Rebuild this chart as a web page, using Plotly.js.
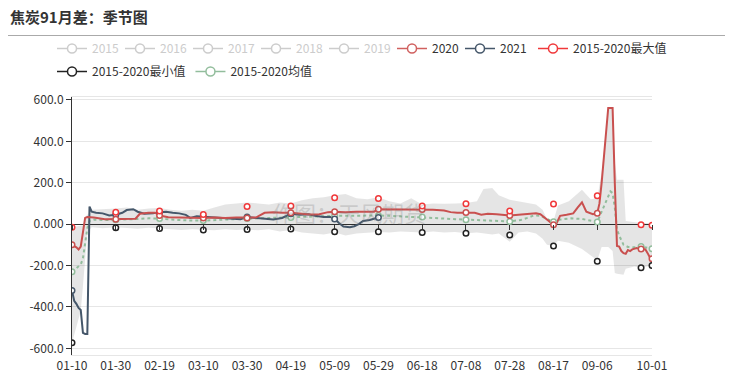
<!DOCTYPE html>
<html><head><meta charset="utf-8">
<script src="https://cdn.plot.ly/plotly-3.0.1.min.js"></script>
<style>html,body{margin:0;padding:0;background:#fff}#chart{width:732px;height:383px}</style>
</head><body><div id="chart"></div>
<script>
// ---- data (month-day, year 2020 axis) ----
const tickDays = ['01-10','01-30','02-19','03-10','03-30','04-19','05-09','05-29','06-18','07-08','07-28','08-17','09-06','10-01'];
const markDays = ['01-10','01-30','02-19','03-10','03-30','04-19','05-09','05-29','06-18','07-08','07-28','08-17','09-06','09-26','10-01'];
const maxMarks = [-15,58,63,46,85,88,127,124,88,98,63,97,137,-3,-5];
const minMarks = [-573,-18,-21,-28,-26,-23,-37,-37,-40,-44,-52,-105,-179,-211,-200];

const days2020 = ['01-10','01-11','01-12','01-13','01-14','01-15','01-16','01-17','01-20','01-25','01-30','02-04','02-08','02-10','02-14','02-17','02-19','02-23','02-28','03-05','03-10','03-15','03-20','03-25','03-30','04-03','04-07','04-11','04-15','04-19','04-24','04-28','05-02','05-06','05-09','05-14','05-19','05-24','05-27','05-29','06-03','06-08','06-13','06-18','06-23','06-28','07-01','07-04','07-08','07-12','07-15','07-18','07-22','07-28','08-01','08-05','08-09','08-11','08-13','08-15','08-17','08-18','08-20','08-23','08-26','08-28','08-30','09-01','09-04','09-06','09-07','09-08','09-09','09-10','09-11','09-12','09-13','09-14','09-15','09-16','09-17','09-18','09-19','09-20','09-21','09-22','09-23','09-24','09-26','09-28','09-29','09-30','10-01'];
const vals2020 = [-100,-105,-112,-122,-108,-40,30,34,32,24,24,24,26,50,55,55,42,33,32,30,30,32,30,32,30,32,55,58,55,55,50,46,48,58,60,58,60,60,60,72,72,70,72,71,70,66,58,55,56,55,45,50,48,42,45,50,52,48,30,15,-3,-5,40,45,52,80,105,60,48,53,100,200,330,450,561,561,561,200,-105,-108,-130,-140,-143,-125,-130,-122,-118,-115,-120,-122,-140,-160,-167];

const days2021 = ['01-10','01-11','01-12','01-13','01-14','01-15','01-16','01-17','01-18','01-19','01-21','01-24','01-27','01-30','02-02','02-04','02-07','02-09','02-12','02-16','02-19','02-22','02-25','02-28','03-02','03-04','03-07','03-10','03-14','03-19','03-23','03-27','03-30','04-03','04-07','04-11','04-15','04-19','04-23','04-27','04-30','05-04','05-07','05-09','05-11','05-13','05-16','05-18','05-20','05-22','05-25','05-29'];
const vals2021 = [-321,-370,-385,-405,-415,-525,-530,-530,85,60,55,52,42,45,55,68,72,60,50,52,58,60,55,52,45,30,38,36,33,28,25,24,34,30,26,22,30,50,45,48,40,35,35,25,5,-12,-15,-10,0,15,20,32];

const daysMean = ['01-10','01-12','01-14','01-15','01-16','01-17','01-18','01-20','01-25','01-30','02-04','02-09','02-14','02-19','02-24','02-29','03-05','03-10','03-15','03-20','03-25','03-30','04-04','04-09','04-14','04-19','04-24','04-29','05-04','05-09','05-14','05-19','05-24','05-29','06-03','06-08','06-13','06-18','06-23','06-28','07-03','07-08','07-13','07-18','07-23','07-28','08-02','08-05','08-08','08-11','08-14','08-17','08-20','08-25','08-30','09-03','09-06','09-08','09-10','09-12','09-13','09-14','09-15','09-16','09-18','09-20','09-23','09-26','10-01'];
const valsMean = [-230,-210,-195,-165,-90,-20,15,22,20,21,22,25,28,27,22,18,17,17,20,22,25,27,28,30,32,32,35,37,38,40,40,41,42,42,40,38,36,34,30,27,24,21,20,18,15,13,20,30,42,40,25,11,22,28,25,15,10,60,110,158,150,80,-25,-55,-100,-110,-112,-108,-119];

const bandDays = ['01-10','01-12','01-14','01-15','01-16','01-17','01-19','01-24','01-30','02-04','02-09','02-14','02-19','02-24','02-29','03-05','03-10','03-15','03-20','03-25','03-30','04-04','04-09','04-14','04-19','04-24','04-29','05-04','05-09','05-14','05-19','05-24','05-29','06-03','06-08','06-13','06-18','06-23','06-28','07-03','07-08','07-13','07-16','07-20','07-23','07-28','08-01','08-05','08-09','08-12','08-14','08-17','08-19','08-24','08-30','09-03','09-06','09-08','09-11','09-13','09-14','09-15','09-18','09-19','09-23','09-26','10-01'];
const bandHigh = [-15,-12,-10,-5,35,45,70,72,75,80,70,75,78,70,65,70,65,80,95,100,105,100,95,105,100,115,125,130,140,145,125,120,130,110,100,125,95,100,98,100,102,110,170,175,140,118,110,100,95,70,25,15,90,110,166,120,125,250,561,561,300,214,214,15,10,5,5];
const bandLow = [-573,-500,-420,-300,-150,-40,-15,-20,-15,-20,-22,-18,-21,-25,-28,-25,-28,-30,-25,-28,-26,-30,-25,-35,-28,-40,-45,-50,-40,-55,-45,-40,-38,-40,-35,-38,-40,-35,-40,-38,-44,-40,-45,-50,-45,-85,-40,-35,-45,-70,-100,-105,-80,-90,-120,-150,-175,-110,-110,-130,-236,-240,-245,-215,-205,-211,-200];

const yTickVals = [-600,-400,-200,0,200,400,600];
const yTickText = ['-600.0','-400.0','-200.0','0.000','200.0','400.0','600.0'];
const hiddenYears = ['2015','2016','2017','2018','2019'];

// ---- build ----
const D = d => '2020-' + d;
function atMarks(days, vals) {
  const x = [], y = [];
  days.forEach((d, i) => { if (markDays.includes(d)) { x.push(D(d)); y.push(vals[i]); } });
  return {x, y};
}
const FONT = 'Noto Sans CJK SC, Noto Sans, sans-serif';
const C2020 = '#c9504f', C2021 = '#45576a', CMAX = '#f0383a', CMIN = '#222222', CMEAN = '#92bd9c';
const mk = (c) => ({symbol: 'circle', size: 5.5, color: '#ffffff', line: {color: c, width: 1.5}});

const traces = [];
traces.push({x: bandDays.map(D), y: bandLow, mode: 'lines', line: {width: 0}, showlegend: false, hoverinfo: 'skip'});
traces.push({x: bandDays.map(D), y: bandHigh, mode: 'lines', line: {width: 0}, fill: 'tonexty', fillcolor: 'rgba(0,0,0,0.1)', showlegend: false, hoverinfo: 'skip'});
traces.push({x: daysMean.map(D), y: valsMean, mode: 'lines', line: {color: CMEAN, width: 2, dash: 'dot'}, showlegend: false});
traces.push({x: days2021.map(D), y: vals2021, mode: 'lines', line: {color: C2021, width: 2}, showlegend: false});
traces.push({x: days2020.map(D), y: vals2020, mode: 'lines', line: {color: C2020, width: 2}, showlegend: false});
const mMean = atMarks(daysMean, valsMean), m2021 = atMarks(days2021, vals2021), m2020 = atMarks(days2020, vals2020);
traces.push({x: mMean.x, y: mMean.y, mode: 'markers', marker: mk(CMEAN), showlegend: false});
traces.push({x: m2021.x, y: m2021.y, mode: 'markers', marker: mk(C2021), showlegend: false});
traces.push({x: m2020.x, y: m2020.y, mode: 'markers', marker: mk(C2020), showlegend: false});
traces.push({x: markDays.map(D), y: maxMarks, mode: 'markers', marker: mk(CMAX), showlegend: false});
traces.push({x: markDays.map(D), y: minMarks, mode: 'markers', marker: mk(CMIN), showlegend: false, xaxis: 'x2'});
// legend entries (no visible data)
const leg = (name, c, legendId, textColor) => ({
  x: [D('01-10')], y: [null], mode: 'lines+markers',
  name: textColor ? '<span style="color:' + textColor + '">' + name + '</span>' : name,
  line: {color: c, width: 1.5}, marker: {symbol: 'circle', size: 9, color: '#ffffff', line: {color: c, width: 1.5}},
  legend: legendId, showlegend: true, hoverinfo: 'skip'
});
hiddenYears.forEach(yr => traces.push(leg(yr, '#cccccc', 'legend', '#cccccc')));
traces.push(leg('2020', '#d0605f', 'legend'));
traces.push(leg('2021', C2021, 'legend'));
traces.push(leg('2015-2020最大值', CMAX, 'legend3'));
traces.push(leg('2015-2020最小值', CMIN, 'legend2'));
traces.push(leg('2015-2020均值', CMEAN, 'legend2'));

const W = 732, H = 383;
const yr = [-632, 614];
const legBase = {orientation: 'h', traceorder: 'normal', xref: 'container', yref: 'container', xanchor: 'left', yanchor: 'top', itemwidth: 30, font: {size: 12, color: '#333'}, bgcolor: 'rgba(0,0,0,0)'};
const layout = {
  width: W, height: H,
  margin: {l: 72, r: 80, t: 97, b: 28},
  paper_bgcolor: '#fff', plot_bgcolor: '#fff',
  font: {family: FONT, size: 12, color: '#333'},
  title: {text: '<b>焦炭91月差：季节图</b>', xref: 'container', yref: 'container', x: 10 / W, y: 1 - 18 / H, xanchor: 'left', yanchor: 'middle', font: {family: FONT, size: 15, color: '#333'}},
  xaxis: {
    type: 'date', range: [D('01-10'), D('10-01')], tickvals: tickDays.map(D), ticktext: tickDays,
    showgrid: false, zeroline: false, ticks: '', showline: true, linecolor: '#e6e6e6', mirror: true,
    tickfont: {size: 12, color: '#333'}
  },
  xaxis2: {
    type: 'date', overlaying: 'x', anchor: 'free', position: (0 - yr[0]) / (yr[1] - yr[0]), range: [D('01-10'), D('10-01')],
    tickvals: tickDays.map(D), showticklabels: false, ticks: 'outside', ticklen: 5, tickcolor: '#333',
    showgrid: false, zeroline: false, showline: false
  },
  yaxis: {
    range: yr, tickvals: yTickVals, ticktext: yTickText, showgrid: true, gridcolor: '#e6e6e6',
    zeroline: true, zerolinecolor: '#333', zerolinewidth: 1,
    showline: true, linecolor: '#333', ticks: 'outside', ticklen: 5, tickcolor: '#333',
    tickfont: {size: 12, color: '#333'}
  },
  legend: Object.assign({}, legBase, {entrywidth: 23, entrywidthmode: 'pixels', x: 52 / W, y: 1 - 34 / H}),
  legend3: Object.assign({}, legBase, {x: 533 / W, y: 1 - 34 / H}),
  legend2: Object.assign({}, legBase, {x: 52 / W, y: 1 - 57 / H}),
  shapes: [{type: 'line', xref: 'paper', yref: 'paper', x0: (8 - 72) / 580, x1: (725 - 72) / 580, y0: (355 - 35.5) / 258, y1: (355 - 35.5) / 258, line: {color: '#aaaaaa', width: 1}}],
  annotations: [{text: '作图：天风期货', xref: 'paper', yref: 'paper', x: (349 - 72) / 580, y: (355 - 212) / 258, showarrow: false, font: {family: FONT, size: 22, color: 'rgba(130,130,130,0.28)'}}],
  showlegend: true
};
Plotly.newPlot('chart', traces, layout, {displayModeBar: false, staticPlot: true});
</script>
</body></html>
